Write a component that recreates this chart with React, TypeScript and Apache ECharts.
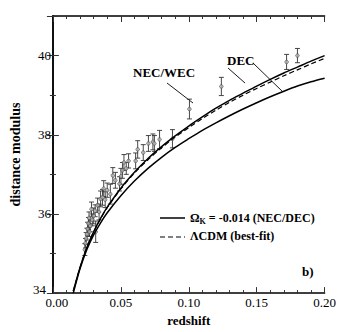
import React, { useEffect, useRef } from "react";
import * as echarts from "echarts";

// Supernova data points (redshift, distance modulus, error)
const zPts = [0.0235, 0.024, 0.0245, 0.025, 0.0255, 0.0262, 0.0266, 0.027, 0.0275, 0.0284, 0.029, 0.03, 0.0311, 0.0315, 0.0329, 0.034, 0.0351, 0.0365, 0.0374, 0.0385, 0.04, 0.0423, 0.0441, 0.046, 0.049, 0.0501, 0.0512, 0.0523, 0.054, 0.0557, 0.0609, 0.0624, 0.0665, 0.0703, 0.0736, 0.0747, 0.0785, 0.088, 0.1005, 0.124, 0.172, 0.18];
const muPts = [35.1, 35.26, 35.38, 35.49, 35.62, 35.76, 35.9, 35.55, 35.7, 36.12, 35.85, 35.95, 36.08, 35.55, 36.22, 36.05, 36.38, 36.42, 36.64, 36.36, 36.6, 36.5, 36.97, 36.85, 36.76, 36.95, 37.1, 37.3, 37.15, 37.34, 37.34, 37.63, 37.55, 37.78, 37.82, 37.78, 37.88, 37.9, 38.65, 39.22, 39.84, 40.0];
const errPts = [0.15, 0.12, 0.15, 0.15, 0.17, 0.15, 0.15, 0.12, 0.15, 0.18, 0.15, 0.2, 0.15, 0.27, 0.18, 0.2, 0.2, 0.2, 0.2, 0.2, 0.18, 0.25, 0.2, 0.2, 0.18, 0.2, 0.2, 0.2, 0.15, 0.18, 0.2, 0.22, 0.2, 0.2, 0.2, 0.2, 0.23, 0.23, 0.25, 0.23, 0.19, 0.18];

// Model curves
const curveZ = [0.015, 0.02, 0.025, 0.03, 0.035, 0.04, 0.05, 0.06, 0.07, 0.08, 0.09, 0.1, 0.11, 0.12, 0.13, 0.14, 0.15, 0.16, 0.17, 0.18, 0.19, 0.2];
const necWec = [34.05, 34.65, 35.15, 35.55, 35.88, 36.17, 36.65, 37.05, 37.4, 37.7, 37.97, 38.22, 38.45, 38.67, 38.87, 39.05, 39.23, 39.4, 39.56, 39.71, 39.86, 40.0];
const lcdm = [34.05, 34.65, 35.15, 35.55, 35.87, 36.16, 36.63, 37.03, 37.37, 37.67, 37.94, 38.18, 38.41, 38.62, 38.82, 39.0, 39.17, 39.33, 39.49, 39.64, 39.79, 39.93];
const decCurve = [34.0, 34.62, 35.1, 35.47, 35.77, 36.03, 36.46, 36.83, 37.15, 37.43, 37.68, 37.9, 38.11, 38.3, 38.48, 38.65, 38.81, 38.96, 39.1, 39.23, 39.34, 39.43];

const FONT = "'Liberation Serif', 'DejaVu Serif', serif";

export default function App() {
  const ref = useRef<HTMLDivElement>(null);
  useEffect(() => {
    if (!ref.current) return;
    const chart = echarts.init(ref.current, null, { renderer: "svg" });
    const errData = zPts.map((z, i) => [z, muPts[i], errPts[i]]);
    const ptData = zPts.map((z, i) => [z, muPts[i]]);
    const axisCommon = {
      axisLine: { show: true, lineStyle: { color: "#000", width: 1.5 } },
      axisTick: { show: true, inside: true, length: 6, lineStyle: { color: "#333", width: 1 } },
      minorTick: { show: true, length: 3, lineStyle: { color: "#333", width: 1 } },
      splitLine: { show: false },
    };
    const lab = { fontFamily: FONT, fontSize: 13, color: "#000" };
    const option: any = {
      animation: false,
      backgroundColor: "#fff",
      grid: { left: 27, right: 14, top: 16, bottom: 34 },
      xAxis: [
        {
          type: "value", min: 0, max: 0.2, interval: 0.05,
          ...axisCommon,
          minorTick: { ...axisCommon.minorTick, splitNumber: 5 },
          axisLabel: {
            ...lab, margin: 3,
            formatter: (v: number) => (v === 0 ? "{f|0.00}" : v.toFixed(2)),
            rich: { f: { ...lab, padding: [0, 0, 0, 8] } },
          },
          name: "redshift", nameLocation: "middle", nameGap: 18,
          nameTextStyle: { fontFamily: FONT, fontSize: 13, fontWeight: "bold", color: "#000" },
        },
        {
          type: "value", min: 0, max: 0.2, interval: 0.05, position: "top",
          ...axisCommon,
          minorTick: { ...axisCommon.minorTick, splitNumber: 5 },
          axisLabel: { show: false },
        },
      ],
      yAxis: [
        {
          type: "value", min: 34, max: 41, interval: 2,
          ...axisCommon,
          minorTick: { ...axisCommon.minorTick, splitNumber: 2 },
          axisLabel: {
            ...lab, margin: 2, showMaxLabel: false,
            formatter: (v: number) => (v === 41 ? "" : v === 34 ? "{lo|34}" : String(v)),
            rich: { lo: { ...lab, padding: [0, 5, 8, 0] } },
          },
          name: "distance modulus", nameLocation: "middle", nameGap: 13,
          nameTextStyle: { fontFamily: FONT, fontSize: 14, fontWeight: "bold", color: "#000" },
        },
        {
          type: "value", min: 34, max: 41, interval: 2, position: "right",
          ...axisCommon,
          minorTick: { ...axisCommon.minorTick, splitNumber: 2 },
          axisLabel: { show: false },
        },
      ],
      series: [
        {
          type: "custom",
          xAxisIndex: 0, yAxisIndex: 0,
          data: errData,
          clip: true,
          renderItem: (params: any, api: any) => {
            const x = api.value(0), y = api.value(1), e = api.value(2);
            const t = api.coord([x, y + e]);
            const b = api.coord([x, y - e]);
            const c = 2.5;
            const st = { stroke: "#333", lineWidth: 0.9 };
            return {
              type: "group",
              children: [
                { type: "line", shape: { x1: t[0], y1: t[1], x2: b[0], y2: b[1] }, style: st },
                { type: "line", shape: { x1: t[0] - c, y1: t[1], x2: t[0] + c, y2: t[1] }, style: st },
                { type: "line", shape: { x1: b[0] - c, y1: b[1], x2: b[0] + c, y2: b[1] }, style: st },
              ],
            };
          },
          z: 2,
        },
        {
          type: "scatter",
          data: ptData,
          symbol: "circle",
          symbolSize: 3.5,
          itemStyle: { color: "#bbb", borderColor: "#444", borderWidth: 0.8 },
          z: 3,
        },
        {
          type: "line", name: "NEC/WEC",
          data: curveZ.map((z, i) => [z, necWec[i]]),
          smooth: 0.3, symbol: "none", showSymbol: false,
          lineStyle: { color: "#000", width: 1.5, type: "solid" }, z: 4,
        },
        {
          type: "line", name: "LCDM",
          data: curveZ.map((z, i) => [z, lcdm[i]]),
          smooth: 0.3, symbol: "none", showSymbol: false,
          lineStyle: { color: "#000", width: 1.2, type: [5, 3] }, z: 4,
        },
        {
          type: "line", name: "DEC",
          data: curveZ.map((z, i) => [z, decCurve[i]]),
          smooth: 0.3, symbol: "none", showSymbol: false,
          lineStyle: { color: "#000", width: 1.5, type: "solid" }, z: 4,
        },
      ],
      graphic: [
        { type: "text", x: 133, y: 66, style: { text: "NEC/WEC", fontFamily: FONT, fontSize: 13, fontWeight: "bold", fill: "#000" } },
        { type: "line", shape: { x1: 167, y1: 83, x2: 193, y2: 103 }, style: { stroke: "#000", lineWidth: 0.9 } },
        { type: "text", x: 227, y: 54, style: { text: "DEC", fontFamily: FONT, fontSize: 13, fontWeight: "bold", fill: "#000" } },
        { type: "line", shape: { x1: 228, y1: 68, x2: 245, y2: 83 }, style: { stroke: "#000", lineWidth: 0.9 } },
        { type: "line", shape: { x1: 253, y1: 63, x2: 283, y2: 92 }, style: { stroke: "#000", lineWidth: 0.9 } },
        { type: "line", shape: { x1: 160, y1: 218, x2: 185, y2: 218 }, style: { stroke: "#000", lineWidth: 1.5 } },
        {
          type: "text", x: 190, y: 211,
          style: {
            text: "{a|Ω}{s|K}{a| = -0.014 (NEC/DEC)}",
            rich: {
              a: { fontFamily: FONT, fontSize: 12, fontWeight: "bold", fill: "#000" },
              s: { fontFamily: FONT, fontSize: 8, fontWeight: "bold", fill: "#000", verticalAlign: "bottom", padding: [6, 0, 0, 0] },
            },
          },
        },
        { type: "line", shape: { x1: 160, y1: 237, x2: 185, y2: 237 }, style: { stroke: "#000", lineWidth: 1.2, lineDash: [5, 3] } },
        { type: "text", x: 190, y: 230, style: { text: "ΛCDM (best-fit)", fontFamily: FONT, fontSize: 12, fontWeight: "bold", fill: "#000" } },
        { type: "text", x: 302, y: 265, style: { text: "b)", fontFamily: FONT, fontSize: 13, fontWeight: "bold", fill: "#000" } },
      ],
    };
    chart.setOption(option);
    return () => chart.dispose();
  }, []);
  return <div ref={ref} style={{ position: "absolute", left: 0, top: 0, width: 339, height: 332 }} />;
}
